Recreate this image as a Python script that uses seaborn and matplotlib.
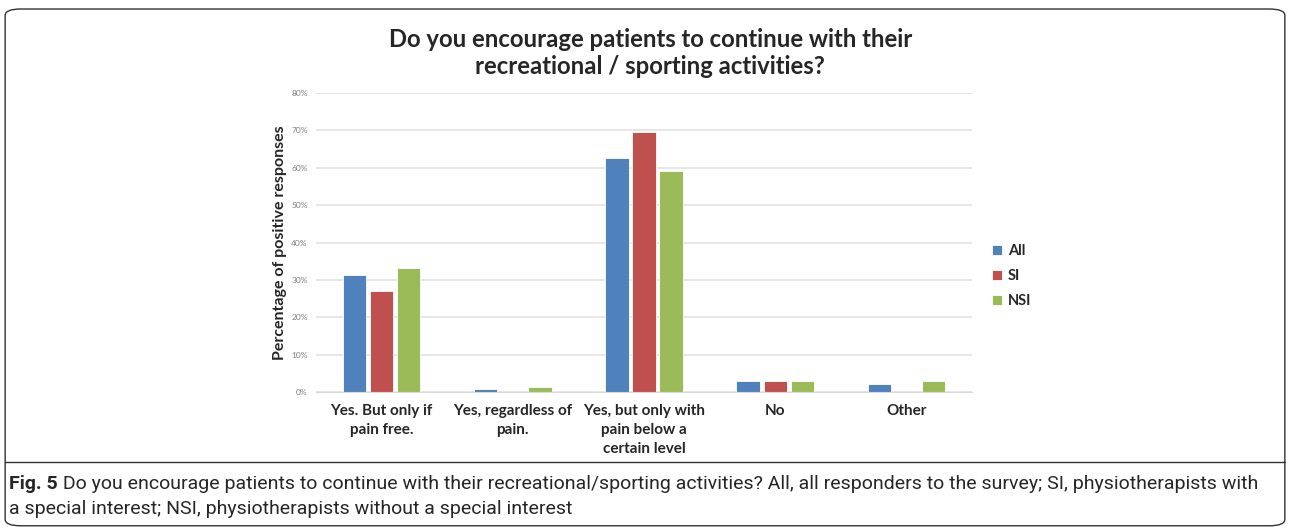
import numpy as np
import pandas as pd
import matplotlib.pyplot as plt
import seaborn as sns
from matplotlib.patches import FancyBboxPatch
from matplotlib.ticker import PercentFormatter

categories = [
    "Yes. But only if\npain free.",
    "Yes, regardless of\npain.",
    "Yes, but only with\npain below a\ncertain level",
    "No",
    "Other",
]
groups = ["All", "SI", "NSI"]
all_vals = [31.3, 0.8, 62.5, 2.9, 2.1]
si_vals = [27.1, 0.0, 69.6, 2.9, 0.0]
nsi_vals = [33.2, 1.4, 59.2, 2.9, 2.9]
colors = ["#4F81BD", "#C0504D", "#9BBB59"]

title = "Do you encourage patients to continue with their\nrecreational / sporting activities?"
ylabel = "Percentage of positive responses"
cap_bold = "Fig. 5"
cap_line1 = (" Do you encourage patients to continue with their recreational/sporting activities? "
             "All, all responders to the survey; SI, physiotherapists with")
cap_line2 = "a special interest; NSI, physiotherapists without a special interest"

rows = []
for g, vals in zip(groups, [all_vals, si_vals, nsi_vals]):
    for c, v in zip(categories, vals):
        rows.append({"category": c, "group": g, "value": v / 100})
df = pd.DataFrame(rows)

sns.set_style("white")
plt.rcParams["font.family"] = ["Lato", "DejaVu Sans"]

fig = plt.figure(figsize=(12.9, 5.3), dpi=100)
ax = fig.add_axes([0.245, 0.2604, 0.5085, 0.5641])

sns.barplot(data=df, x="category", y="value", hue="group", order=categories,
            hue_order=groups, palette=colors, width=0.62, gap=0.14,
            saturation=1, ax=ax, legend=True, edgecolor="white", linewidth=0.6)

ax.set_ylim(0, 0.8)
ax.set_yticks(np.arange(0, 0.81, 0.1))
ax.yaxis.set_major_formatter(PercentFormatter(1.0, decimals=0))
ax.grid(axis="y", color="#e3e3e3", linewidth=1.2)
ax.set_axisbelow(True)
for s in ["top", "right", "left"]:
    ax.spines[s].set_visible(False)
ax.spines["bottom"].set_color("#d9d9d9")
ax.tick_params(axis="y", length=0, labelsize=6, labelcolor="#7f7f7f", pad=6)
ax.tick_params(axis="x", length=0, labelsize=11, pad=9)
for lab in ax.get_xticklabels():
    lab.set_fontweight("bold")
    lab.set_linespacing(1.45)
ax.set_xlabel("")
ax.set_ylabel(ylabel, fontsize=11.5, fontweight="bold", labelpad=3)
ax.set_xlim(-0.5, len(categories) - 0.5)

handles, labels = ax.get_legend_handles_labels()
ax.legend(handles, labels, loc="center left", bbox_to_anchor=(1.01, 0.388),
          frameon=False, handlelength=0.7, handleheight=0.7, handletextpad=0.4,
          labelspacing=0.75, prop={"weight": "bold", "size": 10.5})

fig.text(0.504, 0.9, title, ha="center", va="center", fontsize=17.2,
         fontweight="bold", linespacing=1.25)

# frame and caption
fig.patches.append(FancyBboxPatch((0.004, 0.008), 0.992, 0.975,
                                  boxstyle="round,pad=0,rounding_size=0.012",
                                  transform=fig.transFigure, fill=False,
                                  edgecolor="#333333", linewidth=1.0))
fig.add_artist(plt.Line2D([0.004, 0.996], [0.128, 0.128], transform=fig.transFigure,
                          color="#333333", linewidth=1.0))

cap_font = ["Roboto", "DejaVu Sans"]
t = fig.text(0.007, 0.087, cap_bold, fontsize=14, fontweight="bold",
             family=cap_font, va="center")
fig.canvas.draw()
bb = t.get_window_extent()
fig.text(bb.x1 / fig.bbox.width, 0.087, cap_line1, fontsize=14,
         family=cap_font, va="center")
fig.text(0.007, 0.04, cap_line2, fontsize=14, family=cap_font, va="center")

fig.savefig("out.png", dpi=100)
